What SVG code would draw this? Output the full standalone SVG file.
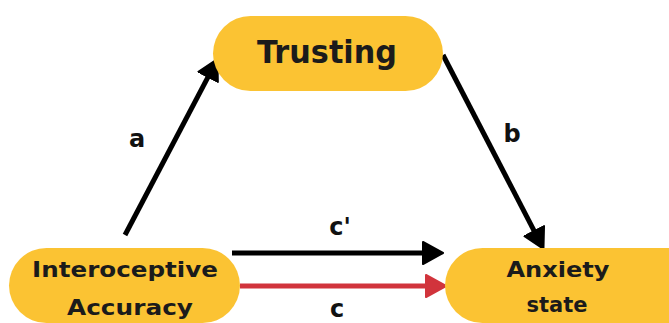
<svg xmlns="http://www.w3.org/2000/svg" width="669" height="323" viewBox="0 0 669 323">
<defs>
<style>
.node{fill:#FBC333;}
.lbl{font-family:"DejaVu Sans","Liberation Sans",sans-serif;font-weight:bold;fill:#1b1b1b;text-anchor:middle;}
.edge{fill:none;stroke-width:5;}
.blk{stroke:#000;}
.red{stroke:#D1343C;}
.el{font-family:"DejaVu Sans","Liberation Sans",sans-serif;font-weight:bold;font-size:24px;fill:#111;text-anchor:middle;}
</style>
<marker id="ahb" markerUnits="userSpaceOnUse" markerWidth="26" markerHeight="28" refX="10" refY="13" orient="auto">
<path d="M1,2 L21,13 L1,24 Z" fill="#000" stroke="#000" stroke-width="2" stroke-linejoin="round"/>
</marker>
<marker id="ahr" markerUnits="userSpaceOnUse" markerWidth="26" markerHeight="28" refX="10" refY="13" orient="auto">
<path d="M1,2 L21,13 L1,24 Z" fill="#D1343C" stroke="#D1343C" stroke-width="2" stroke-linejoin="round"/>
</marker>
</defs>
<rect width="669" height="323" fill="#fff"/>
<g id="connectors">
<line class="edge blk" x1="125" y1="235" x2="212.3" y2="68.9" marker-end="url(#ahb)"/>
<line class="edge blk" x1="443" y1="55" x2="538.4" y2="239.1" marker-end="url(#ahb)"/>
<line class="edge blk" x1="232" y1="253" x2="432" y2="253" marker-end="url(#ahb)"/>
<line class="edge red" x1="240" y1="286" x2="435" y2="286" marker-end="url(#ahr)"/>
<text class="el" x="137" y="147">a</text>
<text class="el" x="512" y="142">b</text>
<text class="el" x="340" y="235">c'</text>
<text class="el" x="337" y="317" font-size="22">c</text>
</g>
<g id="node-trusting">
<rect class="node" x="213" y="16" width="230" height="75" rx="37.5"/>
<text class="lbl" x="327" y="63" font-size="32" textLength="140" lengthAdjust="spacingAndGlyphs">Trusting</text>
</g>
<g id="node-interoceptive">
<rect class="node" x="9" y="248" width="231" height="75" rx="37.5"/>
<text class="lbl" x="125" y="277" font-size="22" textLength="186" lengthAdjust="spacingAndGlyphs">Interoceptive</text>
<text class="lbl" x="130" y="315" font-size="22" textLength="126" lengthAdjust="spacingAndGlyphs">Accuracy</text>
</g>
<g id="node-anxiety">
<rect class="node" x="445" y="248" width="262" height="75" rx="37.5"/>
<text class="lbl" x="558" y="277" font-size="22" textLength="103" lengthAdjust="spacingAndGlyphs">Anxiety</text>
<text class="lbl" x="557" y="312" font-size="22" textLength="61" lengthAdjust="spacingAndGlyphs">state</text>
</g>
</svg>
